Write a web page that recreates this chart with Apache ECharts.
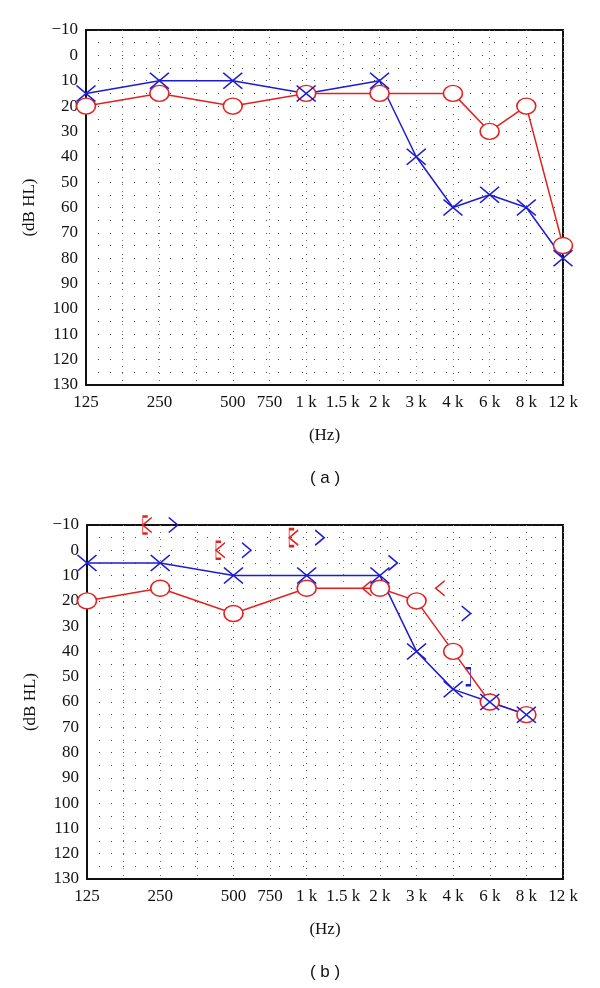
<!DOCTYPE html>
<html>
<head>
<meta charset="utf-8">
<script src="https://cdn.jsdelivr.net/npm/echarts@6/dist/echarts.min.js"></script>
<style>
html,body{margin:0;padding:0;background:#fff;}
#chart{width:600px;height:988px;}
</style>
</head>
<body>
<div id="chart"></div>
<script>
// Frequency categories (audiogram spacing: blank slots are unlabelled half-octave positions)
const xCategories = ['125', '', '250', '', '500', '750', '1 k', '1.5 k', '2 k', '3 k', '4 k', '6 k', '8 k', '12 k'];
const yMin = -10, yMax = 130, yStep = 10;

// Panel (a): air conduction thresholds (dB HL)
const aRightAir = [20, null, 15, null, 20, null, 15, null, 15, null, 15, 30, 20, 75];   // red O
const aLeftAir  = [15, null, 10, null, 10, null, 15, null, 10, 40, 60, 55, 60, 80];     // blue X

// Panel (b): air conduction thresholds (dB HL)
const bRightAir = [20, null, 15, null, 25, null, 15, null, 15, 20, 40, 60, 65, null];   // red O
const bLeftAir  = [5, null, 5, null, 10, null, 10, null, 10, 40, 55, 60, 65, null];     // blue X

// Panel (b): bone conduction thresholds (dB HL)
const bRightBoneMasked   = [null, null, -10, null, 0, null, -5, null, null, null, null, null, null, null]; // red [
const bRightBoneUnmasked = [null, null, -10, null, 0, null, -5, null, 15, null, 15, null, null, null];     // red <
const bLeftBoneUnmasked  = [null, null, -10, null, 0, null, -5, null, 5, null, 25, null, null, null];      // blue >
const bLeftBoneMasked    = [null, null, null, null, null, null, null, null, null, null, 50, null, null, null]; // blue ]

const RED = '#e3211f';
const BLUE = '#1c1cd2';
const SERIF = '"Liberation Serif", "DejaVu Serif", serif';
const SANS = '"Liberation Sans", Arial, sans-serif';

function pairs(arr) {
  const out = [];
  arr.forEach((v, i) => { if (v !== null) out.push([i, v]); });
  return out;
}

const X_PATH = 'path://M0,0 L20,20 M20,0 L0,20';
const LT_PATH = 'path://M9,0 L0,7.5 L9,15';
const GT_PATH = 'path://M0,0 L9,7.5 L0,15';
const LB_PATH = 'path://M5,0 L0,0 L0,17 L5,17';
const RB_PATH = 'path://M0,0 L5,0 L5,17 L0,17';

function xAxisFor(gi) {
  return {
    type: 'category', gridIndex: gi, data: xCategories, boundaryGap: false,
    name: '(Hz)', nameLocation: 'middle', nameGap: 42,
    nameTextStyle: { fontFamily: SERIF, fontSize: 17, color: '#111' },
    axisLine: { show: true, onZero: false, lineStyle: { color: '#111', width: 2 } },
    axisTick: { show: false },
    axisLabel: { interval: 0, fontFamily: SERIF, fontSize: 17, color: '#111', margin: 9 },
    splitLine: { show: true, interval: 0, lineStyle: { color: '#777', width: 1, type: [1, 6] } }
  };
}
function yAxisFor(gi) {
  return {
    type: 'value', gridIndex: gi, inverse: true, min: yMin, max: yMax, interval: yStep,
    name: '(dB HL)', nameLocation: 'middle', nameGap: 48, nameRotate: 90,
    nameTextStyle: { fontFamily: SERIF, fontSize: 17, color: '#111' },
    axisLine: { show: true, lineStyle: { color: '#111', width: 2 } },
    axisTick: { show: false },
    minorTick: { show: false, splitNumber: 2 },
    axisLabel: { fontFamily: SERIF, fontSize: 17, color: '#111', margin: 8,
      formatter: v => String(v).replace('-', '\u2212') },
    splitLine: { show: true, lineStyle: { color: '#444', width: 1, type: [1, 11] } },
    minorSplitLine: { show: true, lineStyle: { color: '#444', width: 1, type: [1, 11] } }
  };
}

function airSeries(gi, data, isRight) {
  return {
    type: 'line', xAxisIndex: gi, yAxisIndex: gi, data: data, connectNulls: true, clip: false,
    symbol: isRight ? 'circle' : X_PATH,
    symbolSize: [19, 16],
    lineStyle: { color: isRight ? RED : BLUE, width: 1.5 },
    itemStyle: isRight ? { color: '#fff', borderColor: RED, borderWidth: 1.5 }
                       : { color: 'none', borderColor: BLUE, borderWidth: 1.5 },
    emphasis: { disabled: true }, animation: false
  };
}
function boneSeries(arr, path, size, offset, color) {
  return {
    type: 'scatter', xAxisIndex: 1, yAxisIndex: 1, data: pairs(arr), clip: false,
    symbol: path, symbolSize: size, symbolOffset: [offset, 0],
    itemStyle: { color: 'none', borderColor: color, borderWidth: 1.4, opacity: 1 },
    emphasis: { disabled: true }, animation: false
  };
}

const chart = echarts.init(document.getElementById('chart'), null, { renderer: 'canvas' });
chart.setOption({
  backgroundColor: '#fff',
  animation: false,
  grid: [
    { left: 86, top: 30, width: 477, height: 355, show: true, borderColor: '#111', borderWidth: 2, backgroundColor: 'transparent' },
    { left: 87, top: 525, width: 476, height: 354, show: true, borderColor: '#111', borderWidth: 2, backgroundColor: 'transparent' }
  ],
  xAxis: [xAxisFor(0), xAxisFor(1)],
  yAxis: [yAxisFor(0), yAxisFor(1)],
  graphic: [
    { type: 'text', x: 325, y: 478, style: { text: '( a )', font: '17px ' + SANS, fill: '#111', align: 'center', verticalAlign: 'middle' } },
    { type: 'text', x: 325, y: 972, style: { text: '( b )', font: '17px ' + SANS, fill: '#111', align: 'center', verticalAlign: 'middle' } }
  ],
  series: [
    airSeries(0, aRightAir, true),
    airSeries(0, aLeftAir, false),
    airSeries(1, bRightAir, true),
    airSeries(1, bLeftAir, false),
    boneSeries(bRightBoneMasked, LB_PATH, [5, 17], -15, RED),
    boneSeries(bRightBoneUnmasked, LT_PATH, [9, 15], -13, RED),
    boneSeries(bLeftBoneUnmasked, GT_PATH, [9, 15], 13, BLUE),
    boneSeries(bLeftBoneMasked, RB_PATH, [5, 17], 15, BLUE)
  ]
});
</script>
</body>
</html>
